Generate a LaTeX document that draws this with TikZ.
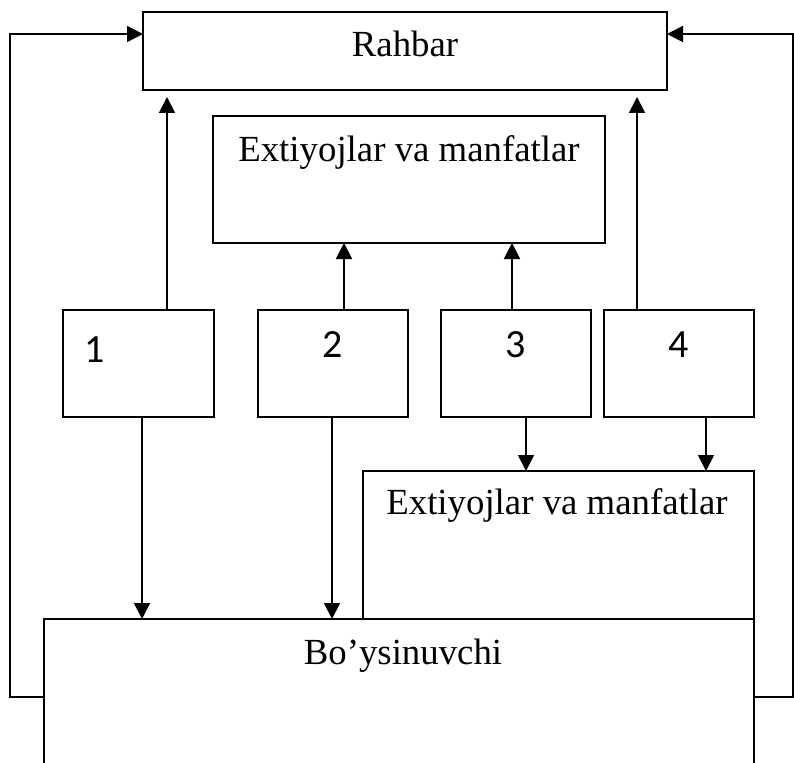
\documentclass[tikz,border=0pt]{standalone}
\usepackage{fontspec}
\setmainfont{Liberation Serif}
\newfontfamily\digitfont{Carlito}
\usetikzlibrary{arrows.meta,fit}

\tikzset{
  box/.style={draw, line width=1.8pt, rectangle, inner sep=0pt, outer sep=0pt},
  label text/.style={anchor=base, inner sep=0pt, font=\fontsize{36.8}{40}\selectfont},
  digit text/.style={anchor=base, inner sep=0pt, font=\digitfont\fontsize{40}{42}\selectfont},
  arr/.style={line width=1.8pt, -{Triangle[length=16pt,width=16pt]}},
}

\begin{document}
\begin{tikzpicture}[x=1pt,y=-1pt]
\useasboundingbox (0,0) rectangle (794,762);
\clip (0,0) rectangle (794,762);

% boxes
\node[box, fit={(143,12) (667,90)}] (rahbar) {};
\node[box, fit={(213,116) (605,243)}] (needs) {};
\node[box, fit={(63,310) (214,417)}] (b1) {};
\node[box, fit={(258,310) (408,417)}] (b2) {};
\node[box, fit={(441,310) (591,417)}] (b3) {};
\node[box, fit={(604,310) (754,417)}] (b4) {};
\node[box, fit={(363,471) (754,619)}] (needs2) {};
\node[box, fit={(44,619) (754,800)}] (sub) {};

% texts
\node[label text] (trahbar) at (405,57) {Rahbar};
\node[label text] (tneeds) at (409,161) {Extiyojlar va manfatlar};
\node[label text] (tneeds2) at (557,514) {Extiyojlar va manfatlar};
\node[label text] (tsub) at (403,664) {Bo’ysinuvchi};
\node[digit text] (t1) at (95,362) {1};
\node[digit text] (t2) at (333,357) {2};
\node[digit text] (t3) at (516,357) {3};
\node[digit text] (t4) at (679,357) {4};

% upward connectors
\draw[arr] ([xshift=104pt]b1.north west) -- ([xshift=24pt,yshift=-7pt]rahbar.south west);
\draw[arr] ([xshift=33pt]b4.north west) -- ([xshift=494pt,yshift=-7pt]rahbar.south west);
\draw[arr] ([xshift=86pt]b2.north west) -- ([xshift=131pt]needs.south west);
\draw[arr] ([xshift=71pt]b3.north west) -- ([xshift=299pt]needs.south west);

% downward connectors
\draw[arr] ([xshift=79pt]b1.south west) -- ([xshift=98pt]sub.north west);
\draw[arr] ([xshift=74pt]b2.south west) -- ([xshift=288pt]sub.north west);
\draw[arr] ([xshift=85pt]b3.south west) -- ([xshift=163pt]needs2.north west);
\draw[arr] ([xshift=102pt]b4.south west) -- ([xshift=343pt]needs2.north west);

% feedback loops
\coordinate (lcorner) at (10,34);
\coordinate (rcorner) at (793,34);
\draw[arr] ([yshift=-78pt]sub.north west) -| (lcorner) -- ([yshift=-22pt]rahbar.north west);
\draw[arr] ([yshift=-78pt]sub.north east) -| (rcorner) -- ([yshift=-22pt]rahbar.north east);
\end{tikzpicture}
\end{document}
